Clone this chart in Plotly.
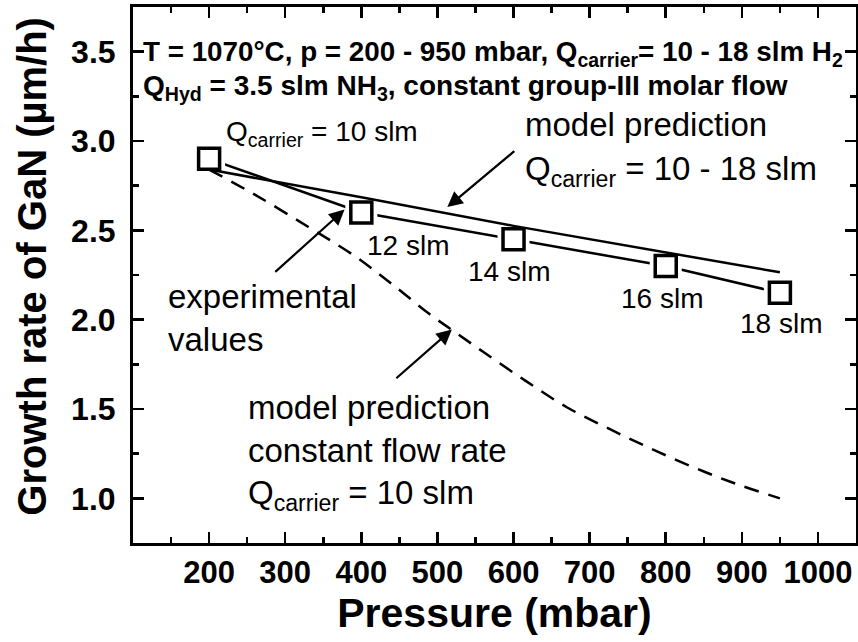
import plotly.graph_objects as go

# ---- data ----
exp_pressure = [200, 400, 600, 800, 950]
exp_rate = [2.9, 2.6, 2.45, 2.3, 2.15]
exp_labels = ["", "12 slm", "14 slm", "16 slm", "18 slm"]

model_pressure = [200, 400, 600, 800, 950]
model_rate = [2.84, 2.685, 2.525, 2.375, 2.265]

const_pressure = [200, 260, 330, 390, 440, 490, 520, 560, 615, 670, 730, 790, 850, 900, 950]
const_rate = [2.84, 2.70, 2.52, 2.36, 2.20, 2.03, 1.94, 1.82, 1.66, 1.51, 1.38, 1.26, 1.15, 1.07, 1.0]

x_ticks = [200, 300, 400, 500, 600, 700, 800, 900, 1000]
y_ticks = [1.0, 1.5, 2.0, 2.5, 3.0, 3.5]

FONT = "Liberation Sans, Arial"

fig = go.Figure()

# experimental connecting line
fig.add_trace(go.Scatter(x=exp_pressure, y=exp_rate, mode="lines",
                         line=dict(color="black", width=2.5), hoverinfo="skip"))
# white halo around markers to create gaps
fig.add_trace(go.Scatter(x=exp_pressure, y=exp_rate, mode="markers",
                         marker=dict(symbol="square", size=32, color="white",
                                     line=dict(width=0)), hoverinfo="skip"))
# model prediction (variable flow)
fig.add_trace(go.Scatter(x=model_pressure, y=model_rate, mode="lines",
                         line=dict(color="black", width=2.5), hoverinfo="skip"))
# model prediction constant flow (dashed)
fig.add_trace(go.Scatter(x=const_pressure, y=const_rate, mode="lines",
                         line=dict(color="black", width=2.5, dash="15px,10px", shape="spline"),
                         hoverinfo="skip"))
# experimental markers
fig.add_trace(go.Scatter(x=exp_pressure, y=exp_rate, mode="markers",
                         marker=dict(symbol="square", size=21, color="white",
                                     line=dict(color="black", width=3.5))))

annos = []
def txt(x, y, s, size=33):
    annos.append(dict(x=x, y=y, xref="x", yref="y", text=s, showarrow=False,
                      xanchor="left", yanchor="middle",
                      font=dict(family=FONT, size=size, color="black")))

def arrow(x0, y0, x1, y1):
    annos.append(dict(x=x1, y=y1, ax=x0, ay=y0, xref="x", yref="y", axref="x", ayref="y",
                      text="", showarrow=True, arrowhead=2, arrowsize=1.4,
                      arrowwidth=2.2, arrowcolor="black"))

txt(219, 3.04, "Q<sub>carrier</sub> = 10 slm", size=28)
txt(612, 3.09, "model prediction")
txt(612, 2.83, "Q<sub>carrier</sub> = 10 - 18 slm")
for p, r, lab, dx, dy in zip(exp_pressure, exp_rate, exp_labels,
                             [0, 5, -62, -62, -55], [0, -0.185, -0.18, -0.18, -0.17]):
    if lab:
        txt(p + dx, r + dy, lab, size=28)
txt(143, 2.13, "experimental")
txt(143, 1.89, "values")
txt(248, 1.51, "model prediction")
txt(248, 1.27, "constant flow rate")
txt(248, 1.02, "Q<sub>carrier</sub> = 10 slm")

arrow(603, 2.95, 513, 2.63)
arrow(285, 2.26, 378, 2.616)
arrow(444, 1.665, 519, 1.945)

# header text
annos.append(dict(x=110.5, y=3.49, xref="x", yref="y", showarrow=False,
                  xanchor="left", yanchor="middle",
                  text="T = 1070°C, p = 200 - 950 mbar, Q<sub>carrier</sub>= 10 - 18 slm H<sub>2</sub>",
                  font=dict(family=FONT, size=27.8, color="black", weight="bold")))
annos.append(dict(x=110.5, y=3.30, xref="x", yref="y", showarrow=False,
                  xanchor="left", yanchor="middle",
                  text="Q<sub>Hyd</sub> = 3.5 slm NH<sub>3</sub>, constant group-III molar flow",
                  font=dict(family=FONT, size=28, color="black", weight="bold")))

# y-axis title (as annotation for exact placement)
annos.append(dict(x=-0.14, y=0.517, xref="paper", yref="paper", showarrow=False,
                  xanchor="center", yanchor="middle", textangle=-90,
                  text="Growth rate of GaN (µm/h)",
                  font=dict(family=FONT, size=40, color="black", weight="bold")))

axis_common = dict(showline=True, linecolor="black", linewidth=3, mirror="ticks",
                   ticks="inside", tickcolor="black", tickwidth=2.5, ticklen=11,
                   showgrid=False, zeroline=False, automargin=False)

fig.update_layout(
    width=858, height=642,
    margin=dict(l=133, r=2, t=7, b=99),
    paper_bgcolor="white", plot_bgcolor="white",
    showlegend=False,
    annotations=annos,
    xaxis=dict(range=[100, 1050], tickvals=x_ticks,
               ticktext=[str(v) for v in x_ticks],
               tickfont=dict(family=FONT, size=31, color="black", weight="bold"),
               ticklabelstandoff=0,
               minor=dict(ticks="inside", ticklen=6, tickwidth=2.5, tickcolor="black", dtick=50),
               title=dict(text="Pressure (mbar)", standoff=6,
                          font=dict(family=FONT, size=41, color="black", weight="bold")),
               **axis_common),
    yaxis=dict(range=[0.75, 3.75], tickvals=y_ticks,
               ticktext=["%.1f" % v for v in y_ticks],
               tickfont=dict(family=FONT, size=32, color="black", weight="bold"),
               ticklabelstandoff=8,
               minor=dict(ticks="inside", ticklen=6, tickwidth=2.5, tickcolor="black", dtick=0.25),
               **axis_common),
)

# remove the default 8px page margin so the figure sits at the window origin
fig.write_html("out.html",
               config={"displayModeBar": False, "staticPlot": True},
               post_script="document.body.style.margin='0';"
                           "document.documentElement.style.overflow='hidden';")
